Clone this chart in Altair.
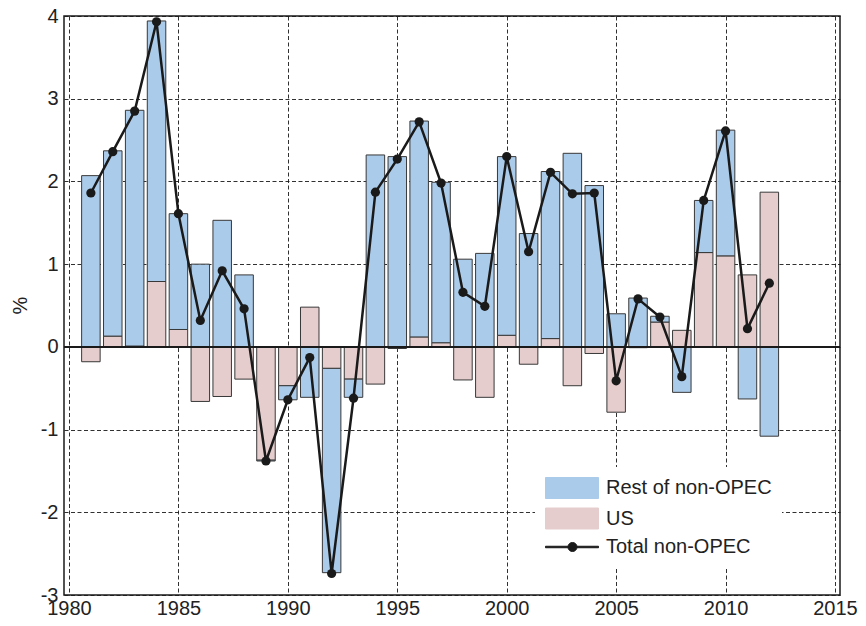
import altair as alt
import pandas as pd

years = list(range(1981, 2013))
us = [-0.18, 0.13, 0.01, 0.79, 0.21, -0.66, -0.60, -0.39, -1.37, -0.47,
      0.48, -0.26, -0.39, -0.45, -0.02, 0.12, 0.05, -0.40, -0.61, 0.14,
      -0.21, 0.10, -0.47, -0.08, -0.79, -0.01, 0.30, 0.20, 1.14, 1.10,
      0.87, 1.87]
rest = [2.07, 2.24, 2.85, 3.15, 1.40, 1.00, 1.53, 0.87, -0.01, -0.17,
        -0.61, -2.47, -0.22, 2.32, 2.30, 2.61, 1.94, 1.06, 1.13, 2.16,
        1.37, 2.02, 2.34, 1.95, 0.40, 0.59, 0.07, -0.55, 0.63, 1.52,
        -0.63, -1.08]
total = [1.86, 2.36, 2.85, 3.93, 1.61, 0.32, 0.92, 0.46, -1.38, -0.64,
         -0.13, -2.74, -0.62, 1.87, 2.27, 2.72, 1.98, 0.66, 0.49, 2.30,
         1.15, 2.11, 1.85, 1.86, -0.41, 0.58, 0.36, -0.36, 1.77, 2.61,
         0.22, 0.77]

series_names = ["Rest of non-OPEC", "US", "Total non-OPEC"]
BLUE = "#abcbea"
PINK = "#e6cdcd"
DARK = "#1a1a1a"
colors = [BLUE, PINK, DARK]

bars = pd.DataFrame(
    [{"year": y, "series": "US", "value": v, "ord": 0} for y, v in zip(years, us)]
    + [{"year": y, "series": "Rest of non-OPEC", "value": v, "ord": 1} for y, v in zip(years, rest)]
)
line = pd.DataFrame({"year": years, "value": total, "series": "Total non-OPEC"})

FONT = "Liberation Sans"
# legend symbols: wide swatch / line-with-dot, drawn to the right of the symbol anchor
RECT_PATH = "M-1,-1H4.048V1H-1Z"
LINE_PATH = ("M-1,-0.07H4.048V0.07H-1Z"
             "M2,0A0.43,0.43 0 1,1 1.14,0A0.43,0.43 0 1,1 2,0Z")

color_scale = alt.Scale(domain=series_names, range=colors)
shape_scale = alt.Scale(domain=series_names, range=[RECT_PATH, RECT_PATH, LINE_PATH])

legend = alt.Legend(
    title=None,
    orient="none",
    legendX=471,
    legendY=451,
    fillColor="white",
    padding=10,
    labelFont=FONT,
    labelFontSize=20,
    labelColor="#222",
    labelOffset=39,
    labelLimit=400,
    rowPadding=4.5,
    symbolSize=441,
    symbolOpacity=1,
    symbolStrokeColor="#383838",
    symbolStrokeWidth=1,
)

x_enc = alt.X(
    "year:Q",
    scale=alt.Scale(domain=[1980, 2015], nice=False, zero=False),
    axis=alt.Axis(
        values=[1980, 1985, 1990, 1995, 2000, 2005, 2010, 2015],
        format="d",
        title=None,
        labelFlush=True,
        labelFlushOffset=19,
        labelOverlap=False,
        labelPadding=3,
    ),
)

y_axis = alt.Axis(
    values=[-3, -2, -1, 0, 1, 2, 3, 4],
    labelExpr="'' + datum.value",
    title="%",
    titleX=-38,
    titleY=289,
    titleAngle=-90,
    titleBaseline="alphabetic",
    titleAlign="center",
    labelPadding=6,
    labelOverlap=False,
)

legend_layer = alt.Chart(line).mark_point(
    filled=True, opacity=0, stroke="#383838", strokeWidth=1
).encode(
    x=x_enc,
    y=alt.Y("value:Q", scale=alt.Scale(domain=[-3, 4], nice=False), axis=y_axis),
    color=alt.Color("series:N", scale=color_scale, legend=legend),
    shape=alt.Shape("series:N", scale=shape_scale, legend=legend),
)

bar_layer = alt.Chart(bars).mark_bar(size=18.5, stroke="#383838", strokeWidth=1).encode(
    x=x_enc,
    y=alt.Y("value:Q", stack="zero"),
    color=alt.Color("series:N", scale=color_scale, legend=legend),
    order=alt.Order("ord:Q"),
)

zero_rule = alt.Chart(line).mark_rule(color=DARK, strokeWidth=1.5).encode(
    y=alt.datum(0)
)

line_layer = alt.Chart(line).mark_line(
    strokeWidth=2.5,
    point=alt.OverlayMarkDef(filled=True, size=85, color=DARK, opacity=1),
).encode(
    x=x_enc,
    y=alt.Y("value:Q"),
    color=alt.Color("series:N", scale=color_scale, legend=legend),
)

chart = (
    alt.layer(legend_layer, bar_layer, zero_rule, line_layer)
    .properties(
        width=776,
        height=579,
        autosize=alt.AutoSizeParams(type="none"),
        padding={"left": 56, "top": 8, "right": 18, "bottom": 23},
        background="white",
    )
    .configure_view(stroke=DARK, strokeWidth=1.5)
    .configure_axis(
        domain=False,
        ticks=False,
        grid=True,
        gridColor=DARK,
        gridDash=[4, 2.5],
        gridWidth=0.9,
        gridOpacity=1,
        labelFont=FONT,
        labelFontSize=20,
        labelColor="#222",
        titleFont=FONT,
        titleFontSize=20,
        titleFontWeight="normal",
        titleColor="#222",
    )
)

chart.save("out.html", embed_options={"renderer": "svg", "actions": False})
